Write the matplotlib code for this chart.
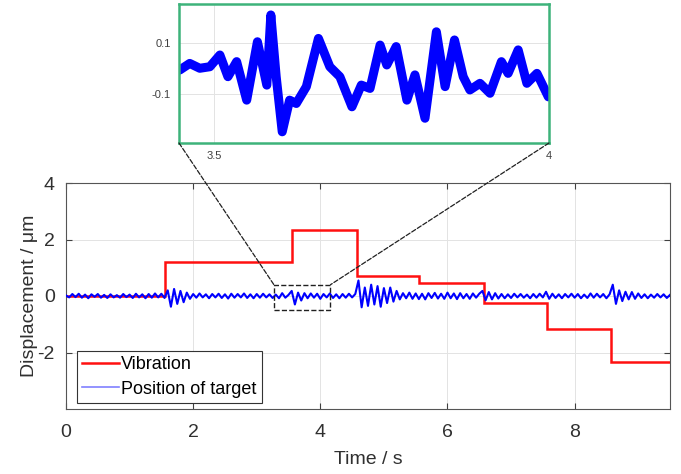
import matplotlib
matplotlib.use("Agg")
import matplotlib.pyplot as plt
import numpy as np
from matplotlib.lines import Line2D
from matplotlib.patches import Rectangle, ConnectionPatch

plt.rcParams['font.family'] = ['Liberation Sans', 'DejaVu Sans']
plt.rcParams['axes.unicode_minus'] = False

# Vibration input: step edges (s) and levels (um)
step_edges = [0, 1.56, 3.56, 4.57, 5.56, 6.57, 7.56, 8.57, 9.5]
step_levels = [0, 1.2, 2.35, 0.7, 0.47, -0.24, -1.17, -2.34]

pos_values = [
    # 0.00 - 1.55
    0.02, -0.05, 0.07, -0.04, 0.08, -0.06, 0.05, -0.08, 0.06, -0.03,
    0.07, -0.06, 0.04, -0.07, 0.06, -0.05, 0.03, -0.06, 0.07, -0.04,
    0.05, -0.07, 0.08, -0.05, 0.06, -0.08, 0.07, -0.06, 0.09, -0.05,
    0.08, -0.07,
    # 1.60 - 1.95
    0.20, -0.38, 0.25, -0.28, 0.18, -0.22, 0.12, -0.10,
    # 2.00 - 3.25
    0.07, -0.06, 0.09, -0.05, 0.06, -0.08, 0.07, -0.05, 0.08, -0.07,
    0.06, -0.09, 0.08, -0.06, 0.07, -0.05, 0.09, -0.07, 0.06, -0.08,
    0.07, -0.06, 0.08, -0.05, 0.06, -0.07,
    # 3.30 - 3.50
    0.05, -0.08, 0.10, -0.06, 0.04,
    # 3.55 - 3.75
    0.18, -0.30, 0.12, -0.16, 0.10,
    # 3.80 - 4.55
    -0.08, 0.09, -0.06, 0.08, -0.10, 0.07, -0.05, 0.09, -0.07, 0.06,
    -0.08, 0.07, -0.06, 0.08, -0.05, 0.07,
    # 4.60 - 5.20
    0.55, -0.40, 0.30, -0.35, 0.40, -0.30, 0.35, -0.38, 0.28, -0.25,
    0.30, -0.20, 0.18,
    # 5.25 - 6.50
    -0.12, 0.10, -0.08, 0.12, -0.10, 0.09, -0.11, 0.08, -0.12, 0.10,
    -0.07, 0.11, -0.09, 0.08, -0.10, 0.12, -0.08, 0.09, -0.11, 0.10,
    -0.08, 0.07, -0.10, 0.09, -0.06, 0.08,
    # 6.55 - 6.80
    0.18, -0.15, 0.14, -0.12, 0.10, -0.09,
    # 6.85 - 7.50
    0.07, -0.08, 0.06, -0.07, 0.08, -0.05, 0.07, -0.06, 0.05, -0.08,
    0.07, -0.06, 0.08, -0.05,
    # 7.55 - 7.65
    0.15, -0.10, 0.08,
    # 7.70 - 8.55
    -0.07, 0.06, -0.08, 0.07, -0.05, 0.08, -0.06, 0.07, -0.08, 0.05,
    -0.07, 0.09, -0.06, 0.08, -0.05, 0.07, -0.08, 0.06,
    # 8.60 - 9.00
    0.40, -0.28, 0.20, -0.18, 0.15, -0.12, 0.14, -0.10, 0.09,
    # 9.05 - 9.50
    -0.07, 0.06, -0.08, 0.05, -0.06, 0.07, -0.05, 0.06, -0.07, 0.04,
]
pos_time = np.linspace(0, 9.5, len(pos_values))

# Zoomed detail 3.45 - 4.0 s
zoom_time = [3.449, 3.464, 3.479, 3.494, 3.509, 3.521, 3.534, 3.549, 3.565, 3.579,
             3.585, 3.593, 3.602, 3.613, 3.623, 3.638, 3.656, 3.673, 3.688, 3.706,
             3.720, 3.733, 3.748, 3.758, 3.772, 3.788, 3.800, 3.815, 3.832, 3.845,
             3.859, 3.872, 3.882, 3.897, 3.912, 3.929, 3.939, 3.954, 3.967, 3.982,
             3.999]
zoom_values = [-0.006, 0.020, 0.001, 0.007, 0.053, -0.032, 0.027, -0.124, 0.105, -0.065,
               0.210, -0.032, -0.248, -0.124, -0.137, -0.071, 0.118, 0.007, -0.032, -0.150,
               -0.065, -0.078, 0.092, 0.014, 0.086, -0.124, -0.025, -0.195, 0.144, -0.071,
               0.112, -0.032, -0.084, -0.058, -0.097, 0.027, -0.019, 0.073, -0.058, -0.019,
               -0.111]

fig = plt.figure(figsize=(6.81, 4.74), dpi=100)
ax = fig.add_axes([66/681, 65/474, 604/681, 226/474])

ax.stairs(step_levels, step_edges, color='#ff1010', lw=1.8, baseline=None, zorder=2)
ax.plot(pos_time, pos_values, color='#0000ff', lw=1.5, zorder=3)
ax.add_patch(Rectangle((3.27, -0.5), 0.89, 0.9, fill=False, ls='--', ec='#202020', lw=1.0, zorder=4))

ax.set_xlim(0, 9.5)
ax.set_ylim(-4, 4)
ax.set_xticks([0, 2, 4, 6, 8])
ax.set_yticks([-2, 0, 2, 4])
ax.grid(True, color='#e3e3e3', lw=0.7)
ax.set_axisbelow(True)
ax.tick_params(direction='in', length=4, top=True, right=True, labelsize=14,
               colors='#404040', labelcolor='#303030')
ax.tick_params(axis='x', pad=11)
ax.tick_params(axis='y', pad=8)
for s in ax.spines.values():
    s.set_color('#555555')
    s.set_linewidth(0.8)
ax.set_xlabel('Time / s', fontsize=14, color='#303030', labelpad=7)
ax.set_ylabel('Displacement / μm', fontsize=14, color='#303030', labelpad=0)

handles = [Line2D([], [], color='#ff1010', lw=1.8),
           Line2D([], [], color='#8080ff', lw=1.2)]
leg = ax.legend(handles, ['Vibration', 'Position of target'], loc='lower left',
                bbox_to_anchor=(11/604, 6/226), borderaxespad=0, fontsize=13,
                fancybox=False, framealpha=1, edgecolor='#333333',
                handlelength=2.0, handletextpad=0.15, labelspacing=0.4, borderpad=0.3)
leg.get_frame().set_linewidth(0.8)

# inset
ins = fig.add_axes([179/681, 331/474, 370/681, 139/474])
ins.plot(zoom_time, zoom_values, color='#0000ff', lw=6.5, solid_joinstyle='round',
         solid_capstyle='round')
ins.set_xlim(3.448, 4.0)
ins.set_ylim(-0.292, 0.253)
ins.set_xticks([3.5, 4])
ins.set_xticklabels(['3.5', '4'])
ins.set_yticks([-0.1, 0.1])
ins.set_yticklabels(['-0.1', '0.1'])
ins.grid(True, color='#e3e3e3', lw=0.7)
ins.set_axisbelow(True)
ins.tick_params(length=0, labelsize=8, labelcolor='#404040', pad=6)
for s in ins.spines.values():
    s.set_color('#3db37a')
    s.set_linewidth(1.8)

for xa, xb in [((0, 0), (3.27, 0.4)), ((1, 0), (4.16, 0.4))]:
    con = ConnectionPatch(xyA=xa, coordsA=ins.transAxes, xyB=xb, coordsB=ax.transData,
                          ls='--', color='#202020', lw=0.9)
    fig.add_artist(con)

fig.savefig('out.png', dpi=100)
